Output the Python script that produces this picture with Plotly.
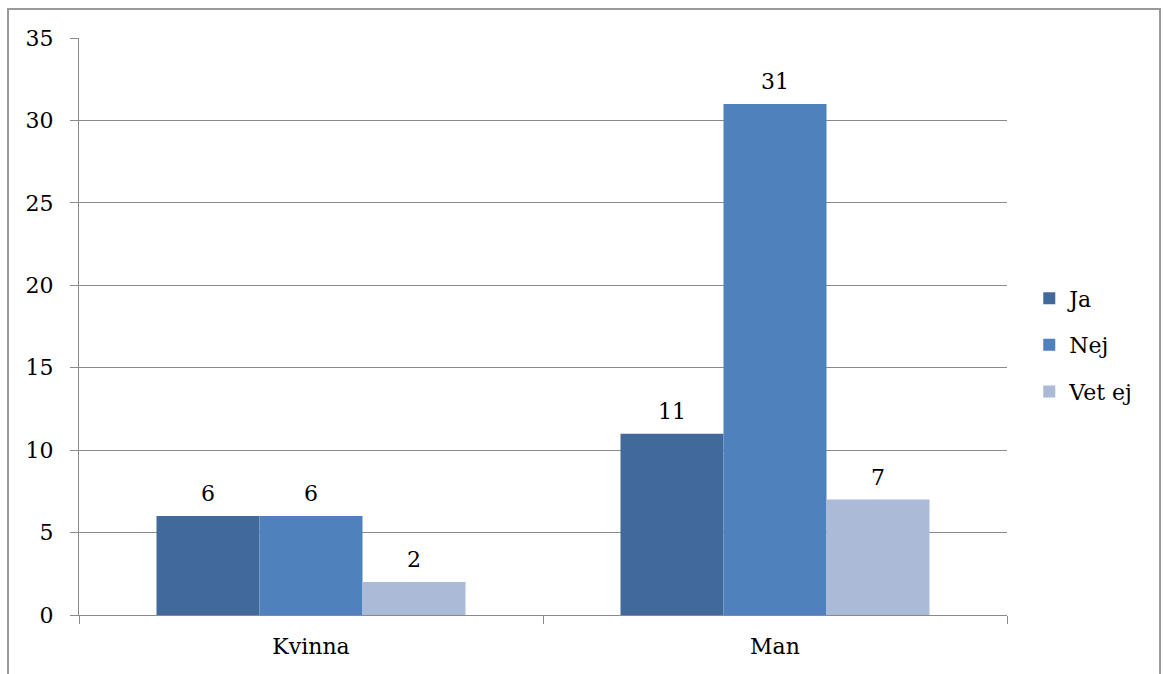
import plotly.graph_objects as go

categories = ["Kvinna", "Man"]
series_names = ["Ja", "Nej", "Vet ej"]
ja = [6, 11]
nej = [6, 31]
vet_ej = [2, 7]
y_ticks = [0, 5, 10, 15, 20, 25, 30, 35]

colors = ["#416A9B", "#4F81BD", "#AABAD7"]
FONT = "DejaVu Serif"
FS = 22
BARGAP = 0.334

fig = go.Figure()
all_vals = [ja, nej, vet_ej]
n_series = len(all_vals)
bar_w = (1 - BARGAP) / n_series
for j, (name, vals) in enumerate(zip(series_names, all_vals)):
    fig.add_trace(go.Bar(
        x=categories, y=vals, name=name,
        marker=dict(color=colors[j], line=dict(width=0)),
        legendgroup=name,
    ))
    for i, v in enumerate(vals):
        fig.add_annotation(
            x=i + (j - (n_series - 1) / 2) * bar_w, y=v, text=str(v),
            showarrow=False, yanchor="bottom", yshift=8,
            font=dict(family=FONT, size=FS, color="black"),
        )

fig.update_layout(
    width=1163, height=674,
    margin=dict(l=79, r=156, t=38, b=59),
    paper_bgcolor="white", plot_bgcolor="white",
    barmode="group", bargap=BARGAP, bargroupgap=0,
    font=dict(family=FONT, size=FS, color="black"),
    showlegend=True,
    legend=dict(x=1.024, y=0.468, xanchor="left", yanchor="middle",
                font=dict(family=FONT, size=FS), tracegroupgap=15,
                itemwidth=30),
    xaxis=dict(type="category", range=[-0.5, 1.5], showline=True, linecolor="#8a8a8a",
               linewidth=1.3, ticks="outside", tickson="boundaries", ticklen=8,
               tickcolor="#8a8a8a", tickwidth=1.3, ticklabelstandoff=11,
               showgrid=False, tickfont=dict(family=FONT, size=FS)),
    yaxis=dict(range=[0, 35], tickvals=y_ticks, showline=True, linecolor="#8a8a8a",
               linewidth=1.3, ticks="outside", ticklen=8, tickcolor="#8a8a8a",
               tickwidth=1.3, ticklabelstandoff=12,
               showgrid=True, gridcolor="#8a8a8a", gridwidth=1.3, zeroline=False,
               tickfont=dict(family=FONT, size=FS)),
)

fig.add_shape(type="rect", xref="paper", yref="paper",
              x0=-0.0765, x1=1.1649, y0=-0.25, y1=1.0503,
              line=dict(color="#9a9a9a", width=2), layer="below")

fig.write_html("out.html", config={"displayModeBar": False},
               post_script="document.body.style.margin='0';document.body.style.overflow='hidden';")
